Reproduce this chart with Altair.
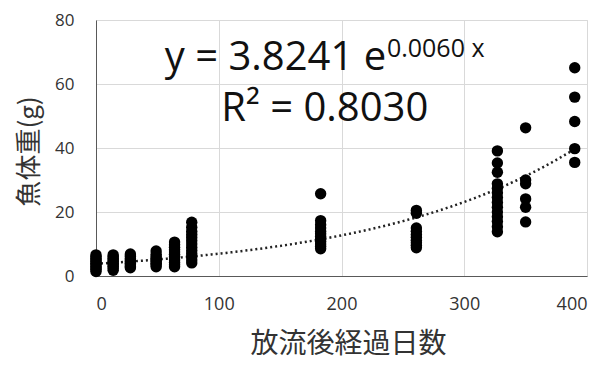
import altair as alt
import pandas as pd

# ---- data ----
DAYS = [0, 14, 28, 49, 64, 78, 183, 261, 327, 350, 390]
W_D0 = [1.4, 2.0, 2.5, 3.0, 3.5, 4.0, 4.5, 5.0, 5.5, 6.0, 6.6]
W_D14 = [1.8, 2.5, 3.0, 3.5, 4.0, 4.5, 5.0, 5.5, 6.0, 6.6]
W_D28 = [2.6, 3.0, 3.5, 4.0, 4.5, 5.0, 5.5, 6.2, 6.9]
W_D49 = [2.9, 3.5, 4.0, 4.5, 5.0, 5.5, 6.0, 6.8, 7.8]
W_D64 = [2.9, 3.5, 4.2, 5.0, 6.0, 6.8, 7.5, 8.2, 9.0, 9.8, 10.6]
W_D78 = [4.1, 5.0, 6.0, 7.0, 8.0, 9.0, 10.0, 11.0, 12.0, 13.0, 14.0, 15.2, 16.8]
W_D183 = [8.5, 9.3, 10.0, 10.8, 11.6, 12.4, 13.2, 14.0, 15.0, 16.0, 17.3, 25.7]
W_D261 = [8.8, 9.6, 10.4, 11.2, 12.1, 13.0, 14.0, 15.0, 19.6, 20.5]
W_D327 = [13.8, 15.4, 17.0, 18.5, 20.0, 21.5, 23.0, 24.5, 26.0, 27.4, 28.8, 32.4, 35.3, 39.1]
W_D350 = [16.9, 21.5, 24.1, 28.8, 30.0, 46.3]
W_D390 = [35.5, 39.8, 48.3, 55.9, 65.1]
WEIGHTS = [W_D0, W_D14, W_D28, W_D49, W_D64, W_D78, W_D183, W_D261, W_D327, W_D350, W_D390]

# trend line coefficients shown on the chart
TREND_A = 3.8241
TREND_B = 0.0060

X_TICKS = [0, 100, 200, 300, 400]
Y_TICKS = [0, 20, 40, 60, 80]

# annotation texts and their positions (data coordinates)
ANN_TEXT = ["y = 3.8241 e", "0.0060 x", "R² = 0.8030"]
ANN_X = [56, 237, 102]
ANN_Y = [64.3, 68.4, 48.3]
ANN_SIZE = [40, 25, 40]

rows = []
for d, ws in zip(DAYS, WEIGHTS):
    for w in ws:
        rows.append({"days": d, "weight": w})
df = pd.DataFrame(rows)

ann = pd.DataFrame({"text": ANN_TEXT, "x": ANN_X, "y": ANN_Y, "size": ANN_SIZE})

FONT = "Open Sans"
JFONT = "Noto Sans CJK JP"

xscale = alt.Scale(domain=[0, 400], nice=False, zero=False)
yscale = alt.Scale(domain=[0, 80], nice=False)

xaxis = alt.Axis(
    values=X_TICKS, title="放流後経過日数", ticks=False, grid=True,
    gridColor="#d9d9d9", domainColor="#595959", labelFont=FONT, labelFontSize=18,
    labelColor="#333333", labelPadding=19, titleFont=JFONT, titleFontSize=28,
    titleFontWeight="normal", titleColor="#333333", titleX=252, titleY=68,
    titleBaseline="middle", titleAnchor="middle", titleAlign="center",
)
yaxis = alt.Axis(
    values=Y_TICKS, title="魚体重(g)", ticks=False, grid=True,
    gridColor="#d9d9d9", domainColor="#595959", labelFont=FONT, labelFontSize=17,
    labelColor="#333333", labelPadding=22, titleFont=JFONT, titleFontSize=26,
    titleFontWeight="normal", titleColor="#333333", titleX=-67, titleY=131,
    titleAngle=-90, titleBaseline="middle", titleAlign="center",
)

points = alt.Chart(df).mark_circle(size=130, color="black", opacity=1).encode(
    x=alt.X("days:Q", scale=xscale, axis=xaxis),
    y=alt.Y("weight:Q", scale=yscale, axis=yaxis),
)

trend = (
    alt.Chart(alt.sequence(0, DAYS[-1] + 1, 2, as_="days"))
    .transform_calculate(weight=f"{TREND_A} * exp({TREND_B} * datum.days)")
    .mark_line(color="#222222", strokeWidth=2.5, strokeDash=[2, 3])
    .encode(x=alt.X("days:Q", scale=xscale), y=alt.Y("weight:Q", scale=yscale))
)

text = alt.Chart(ann).mark_text(align="left", baseline="alphabetic", font=FONT, color="#111111").encode(
    x=alt.X("x:Q", scale=xscale),
    y=alt.Y("y:Q", scale=yscale),
    text="text:N",
    size=alt.Size("size:Q", scale=None, legend=None),
)

chart = (
    alt.layer(trend, points, text)
    .properties(
        width=491, height=256,
        autosize=alt.AutoSizeParams(type="none"),
        padding={"left": 88, "top": 12, "right": 19, "bottom": 83},
    )
    .configure_view(stroke=None)
    .configure(background="white")
)

chart.save("out.html", embed_options={"renderer": "svg", "actions": False})
